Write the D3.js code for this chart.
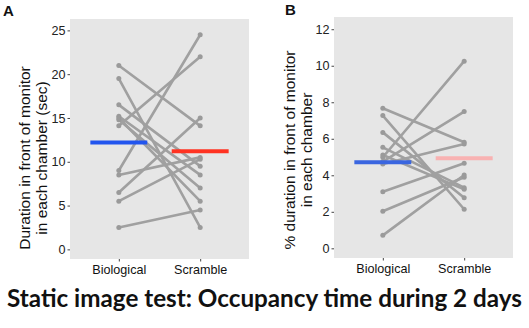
<!DOCTYPE html>
<html><head><meta charset="utf-8">
<script src="https://cdn.jsdelivr.net/npm/d3@7/dist/d3.min.js"></script>
<style>body{margin:0;background:#fff}svg{display:block}</style>
</head><body>
<svg id="c" width="529" height="328"></svg>
<script>
const categories = ["Biological", "Scramble"];
// Panel A: duration (sec), paired subjects
const bioA = [21, 19.5, 16.5, 15.2, 15.0, 14.8, 14.1, 9, 8.5, 6.5, 5.5, 2.5];
const scrA = [14.1, 2.5, 9.5, 8.5, 5.5, 7, 22, 24.5, 10.5, 15, 10.3, 4.5];
const meansA = [12.2, 11.2];
const ticksA = [0, 5, 10, 15, 20, 25];
// Panel B: % duration, paired subjects
const bioB = [7.67, 7.27, 6.35, 5.53, 5.11, 4.99, 4.75, 4.62, 3.10, 2.03, 0.71];
const scrB = [5.81, 2.14, 2.77, 3.32, 3.23, 10.25, 7.49, 5.71, 4.66, 3.89, 4.02];
const meansB = [4.72, 4.93];
const ticksB = [0, 2, 4, 6, 8, 10, 12];

const svg = d3.select("#c");
const FONT = "'Liberation Sans', Arial, sans-serif";

function panel(cfg) {
  const x = d3.scaleLinear().domain([0.4, 2.6]).range([cfg.left, cfg.left + 179]);
  const y = d3.scaleLinear().domain(cfg.ydom).range([cfg.bottom, cfg.top]);
  const g = svg.append("g");
  g.append("rect").attr("x", x(0.4)).attr("y", y(cfg.ydom[1]))
    .attr("width", x(2.6) - x(0.4)).attr("height", y(cfg.ydom[0]) - y(cfg.ydom[1]))
    .attr("fill", "#e6e6e6");
  // y axis
  const ya = g.append("g").attr("transform", `translate(${x(0.4)},0)`)
    .call(d3.axisLeft(y).tickValues(cfg.ticks).tickSize(2.5).tickPadding(2).tickFormat(d3.format("d")));
  ya.select(".domain").remove();
  ya.selectAll("line").attr("stroke", "#444");
  ya.selectAll("text").attr("font-family", FONT).attr("font-size", 12.6).attr("fill", "#222");
  // x axis
  const xa = g.append("g").attr("transform", `translate(0,${y(cfg.ydom[0])})`)
    .call(d3.axisBottom(x).tickValues([1, 2]).tickSize(2.5).tickPadding(4).tickFormat(d => categories[d - 1]));
  xa.select(".domain").remove();
  xa.selectAll("line").attr("stroke", "#444");
  xa.selectAll("text").attr("font-family", FONT).attr("font-size", 12.6).attr("fill", "#111");
  // paired lines
  const pairs = cfg.bio.map((b, i) => [b, cfg.scr[i]]);
  g.selectAll(".pl").data(pairs).join("line")
    .attr("x1", x(1)).attr("x2", x(2))
    .attr("y1", d => y(d[0])).attr("y2", d => y(d[1]))
    .attr("stroke", "#a0a0a0").attr("stroke-width", 2.6).attr("stroke-linecap", "round");
  const pts = [];
  pairs.forEach(p => { pts.push([1, p[0]]); pts.push([2, p[1]]); });
  g.selectAll(".pt").data(pts).join("circle")
    .attr("cx", d => x(d[0])).attr("cy", d => y(d[1])).attr("r", 2.5).attr("fill", "#9a9a9a");
  // mean bars
  g.selectAll(".mb").data(cfg.means).join("line")
    .attr("x1", (d, i) => x(i + 1 - 0.35)).attr("x2", (d, i) => x(i + 1 + 0.35))
    .attr("y1", d => y(d)).attr("y2", d => y(d))
    .attr("stroke", (d, i) => cfg.colors[i]).attr("stroke-width", 4);
  // y title
  const t = g.append("text").attr("font-family", FONT).attr("font-size", 15.5).attr("fill", "#111")
    .attr("text-anchor", "middle")
    .attr("transform", `translate(${cfg.tx},${cfg.ty}) rotate(-90)`);
  cfg.title.forEach((s, i) => t.append("tspan").attr("x", 0).attr("dy", i === 0 ? 0 : 17).text(s));
  // panel letter
  svg.append("text").attr("x", cfg.lx).attr("y", cfg.ly).attr("font-family", FONT)
    .attr("font-weight", "bold").attr("font-size", 15).attr("fill", "#111").text(cfg.letter);
}

panel({left: 70, top: 19, bottom: 259, ydom: [-1.1, 26.3], ticks: ticksA,
  bio: bioA, scr: scrA, means: meansA, colors: ["#2255ee", "#ff3322"],
  title: ["Duration in front of monitor", "in each chamber (sec)"], tx: 30, ty: 158,
  letter: "A", lx: 3, ly: 16});
panel({left: 334, top: 17, bottom: 258, ydom: [-0.53, 12.67], ticks: ticksB,
  bio: bioB, scr: scrB, means: meansB, colors: ["#3a66e0", "#f8b2b2"],
  title: ["% duration in front of monitor", "in each chamber"], tx: 295, ty: 150,
  letter: "B", lx: 285, ly: 15});

const title = svg.append("text").attr("x", 264.5).attr("y", 307).attr("text-anchor", "middle")
  .attr("font-family", "Lato, 'Open Sans', sans-serif").attr("font-weight", "bold")
  .attr("font-size", 24).attr("fill", "#111")
  .text("Static image test: Occupancy time during 2 days");
const w = title.node().getComputedTextLength();
title.attr("font-size", 24 * 515 / w);
</script>
</body></html>
